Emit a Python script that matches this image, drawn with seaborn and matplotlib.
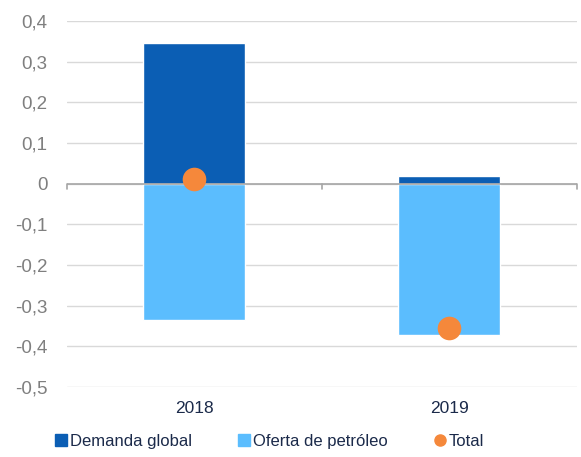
import matplotlib

matplotlib.use("Agg")

import matplotlib.pyplot as plt
import pandas as pd
import seaborn as sns
from matplotlib.lines import Line2D

years = ["2018", "2019"]
demanda_global = [0.346, 0.020]
oferta_petroleo = [-0.334, -0.373]
total = [0.012, -0.354]

yticks = [0.4, 0.3, 0.2, 0.1, 0.0, -0.1, -0.2, -0.3, -0.4, -0.5]

COLOR_DEMANDA = "#0b5eb4"
COLOR_OFERTA = "#5bbdfe"
COLOR_TOTAL = "#f5883b"
GREY_TEXT = "#7f7f7f"
NAVY_TEXT = "#1b2a4a"

sns.set_theme(style="white")
plt.rcParams["font.family"] = ["Liberation Sans", "DejaVu Sans"]

df = pd.DataFrame({"year": years, "demanda": demanda_global,
                   "oferta": oferta_petroleo, "total": total})

fig = plt.figure(figsize=(5.81, 4.57), dpi=100)
ax = fig.add_axes([0.115, 0.153, 0.878, 0.801])

sns.barplot(data=df, x="year", y="demanda", color=COLOR_DEMANDA,
            width=0.4, saturation=1, ax=ax, zorder=3)
sns.barplot(data=df, x="year", y="oferta", color=COLOR_OFERTA,
            width=0.4, saturation=1, ax=ax, zorder=3)
sns.stripplot(data=df, x="year", y="total", color=COLOR_TOTAL, jitter=False,
              size=17, linewidth=0, ax=ax, zorder=5)

ax.set_xlim(-0.5, 1.5)
ax.set_ylim(-0.5, 0.4)
ax.set_yticks(yticks)
ax.set_yticklabels(["0" if v == 0 else ("%.1f" % v).replace(".", ",") for v in yticks])
ax.yaxis.grid(True, color="#d9d9d9", linewidth=1, zorder=0)
ax.set_axisbelow(True)
for s in ax.spines.values():
    s.set_visible(False)

ax.axhline(0, color="#a6a6a6", linewidth=1.2, zorder=4)
for xb in [-0.5, 0.5, 1.5]:
    ax.plot([xb, xb], [0, -0.012], color="#a6a6a6", linewidth=1.2, zorder=4,
            clip_on=False)

ax.tick_params(axis="y", colors=GREY_TEXT, labelsize=13.5, length=0, pad=14)
ax.tick_params(axis="x", colors=NAVY_TEXT, labelsize=12.5, length=0, pad=10)
ax.set_xlabel("")
ax.set_ylabel("")

handles = [
    Line2D([], [], marker="s", linestyle="", color=COLOR_DEMANDA, markersize=8,
           label="Demanda global"),
    Line2D([], [], marker="s", linestyle="", color=COLOR_OFERTA, markersize=8,
           label="Oferta de petróleo"),
    Line2D([], [], marker="o", linestyle="", color=COLOR_TOTAL, markersize=8,
           label="Total"),
]
leg = fig.legend(handles=handles, loc="center", bbox_to_anchor=(0.462, 0.035),
                 ncol=3, frameon=False, fontsize=12, handletextpad=0.05,
                 columnspacing=2.6, handlelength=1.0)
for t in leg.get_texts():
    t.set_color(NAVY_TEXT)

fig.savefig("out.png", dpi=100)
